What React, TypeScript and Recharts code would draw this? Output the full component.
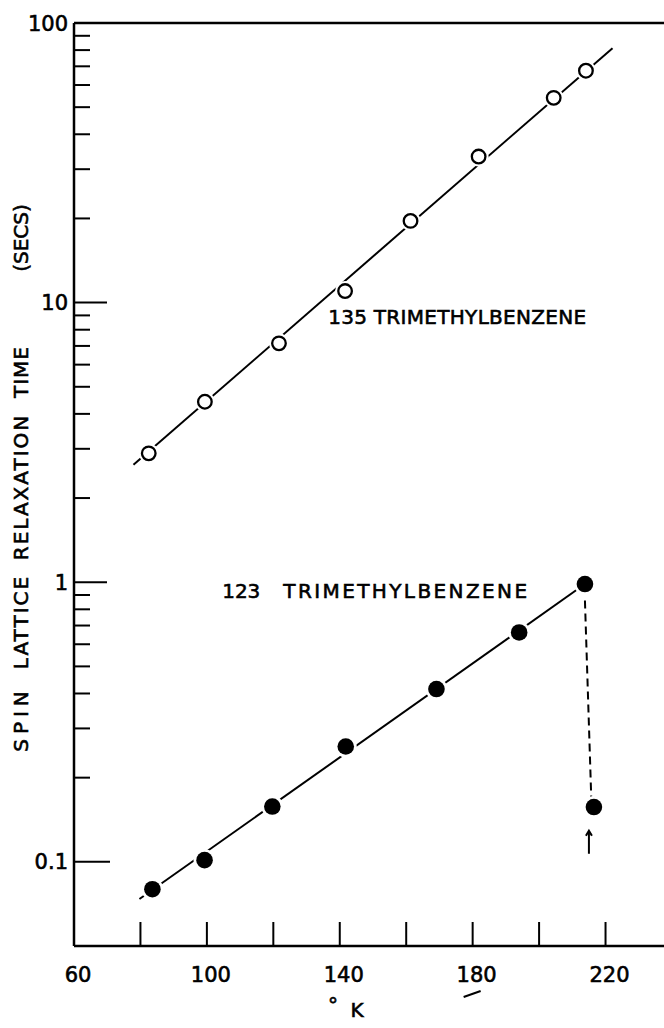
import React from 'react';
import {
  ScatterChart,
  Scatter,
  XAxis,
  YAxis,
  ReferenceLine,
  ReferenceDot,
} from 'recharts';

// temperature (deg K) and T1 (secs)
const temps135 = [82.5, 99.4, 121.7, 141.6, 161.3, 181.8, 204.4, 214.1];
const t1_135 = [2.89, 4.42, 7.15, 11.0, 19.6, 33.3, 54.0, 67.5];

const temps123 = [83.6, 99.3, 119.7, 141.8, 169.1, 194.0, 213.8];
const t1_123 = [0.0798, 0.1014, 0.1577, 0.2585, 0.415, 0.661, 0.985];

// point after the drop (marked with the arrow)
const tempsDrop = [216.5];
const t1Drop = [0.157];

// drawn straight lines through each set
const fitTemps135 = [77.9, 222.1];
const fitT1_135 = [2.63, 81.3];
const fitTemps123 = [79.7, 213.8];
const fitT1_123 = [0.0736, 0.985];
const dashTemps = [213.8, 215.7];
const dashT1 = [0.86, 0.17];

const kelvinTicks = [60, 80, 100, 120, 140, 160, 180, 200, 220];
const kelvinLabels = [60, 100, 140, 180, 220];
const timeTicks = [
  0.1, 0.2, 0.3, 0.4, 0.5, 0.6, 0.7, 0.8, 0.9,
  1, 2, 3, 4, 5, 6, 7, 8, 9,
  10, 20, 30, 40, 50, 60, 70, 80, 90,
  100,
];
const timeLabels = [0.1, 1, 10, 100];

const zip = (xs: number[], ys: number[]) => xs.map((x, i) => ({ x, y: ys[i] }));

const FONT = 'DejaVu Sans';
// the lettering in the original is a little heavier than DejaVu regular
const ink = { fill: '#000', stroke: '#000', strokeWidth: 0.6 };

const KelvinTick = ({ x, y, payload }: any) => {
  const v = payload.value;
  return (
    <g>
      {v !== 60 && <line x1={x} x2={x} y1={y} y2={y - 24} stroke="#000" strokeWidth={2} />}
      {kelvinLabels.includes(v) && (
        <text x={x + 4} y={y + 36} textAnchor="middle" fontFamily={FONT} fontSize={21} {...ink}>
          {v}
        </text>
      )}
      {v === 180 && <line x1={x - 9} y1={y + 51} x2={x + 8} y2={y + 45} stroke="#000" strokeWidth={2} />}
    </g>
  );
};

const TimeTick = ({ x, y, payload }: any) => {
  const v = payload.value;
  const major = timeLabels.includes(v);
  const len = v === 0.1 ? 36 : major ? 33 : 16;
  return (
    <g>
      {v !== 100 && <line x1={x} x2={x + len} y1={y} y2={y} stroke="#000" strokeWidth={2} />}
      {major && (
        <text x={x - 6} y={y} dy="0.36em" textAnchor="end" fontFamily={FONT} fontSize={21} {...ink}>
          {String(v)}
        </text>
      )}
    </g>
  );
};

const OpenDot = ({ cx, cy }: any) => (
  <g>
    <circle cx={cx} cy={cy} r={10} fill="#fff" />
    <circle cx={cx} cy={cy} r={6.8} fill="#fff" stroke="#000" strokeWidth={2.3} />
  </g>
);

const FilledDot = ({ cx, cy }: any) => (
  <g>
    <circle cx={cx} cy={cy} r={11} fill="#fff" />
    <circle cx={cx} cy={cy} r={8.3} fill="#000" />
  </g>
);

const NoDot = () => <g />;

const YTitle = () => {
  const words = [
    { t: 'SPIN', c: 719, ls: 5 },
    { t: 'LATTICE', c: 622, ls: 2 },
    { t: 'RELAXATION', c: 487, ls: 2 },
    { t: 'TIME', c: 372, ls: 1 },
    { t: '(SECS)', c: 238, ls: 0 },
  ];
  return (
    <g>
      {words.map((w) => (
        <text
          key={w.t}
          transform={`translate(28, ${w.c}) rotate(-90)`}
          textAnchor="middle"
          fontFamily={FONT}
          fontSize={20}
          letterSpacing={w.ls}
          {...ink}
        >
          {w.t}
        </text>
      ))}
    </g>
  );
};

const XTitle = () => (
  <g fontFamily={FONT} {...ink}>
    <text x={333} y={1012} textAnchor="middle" fontSize={20}>°</text>
    <text x={357} y={1017} textAnchor="middle" fontSize={20}>K</text>
  </g>
);

const textShape = (label: string, spacing: number) => (p: any) => (
  <text x={p.cx} y={p.cy} fontFamily={FONT} fontSize={20} letterSpacing={spacing} {...ink}>
    {label}
  </text>
);

const ArrowShape = ({ cx, cy }: any) => (
  <g stroke="#000" strokeWidth={2} fill="none">
    <line x1={cx} x2={cx} y1={cy - 11} y2={cy + 11} />
    <path d={`M${cx - 3} ${cy - 7} L${cx} ${cy - 12} L${cx + 3} ${cy - 7}`} />
  </g>
);

export default function App() {
  return (
    <div style={{ position: 'absolute', left: 0, top: 0, width: 664, height: 1028, background: '#fff' }}>
      <ScatterChart width={664} height={1028} margin={{ top: 23, right: 0, bottom: 0, left: 0 }}>
        <XAxis
          type="number"
          dataKey="x"
          domain={[60, 237.6]}
          ticks={kelvinTicks}
          interval={0}
          height={82}
          tickSize={0}
          tickMargin={0}
          tickLine={false}
          tick={<KelvinTick />}
          axisLine={{ stroke: '#000', strokeWidth: 2.5 }}
          label={{ content: () => <XTitle /> }}
        />
        <YAxis
          type="number"
          dataKey="y"
          scale="log"
          domain={[0.05, 100]}
          allowDataOverflow
          ticks={timeTicks}
          interval={0}
          width={74}
          tickSize={0}
          tickMargin={0}
          tickLine={false}
          tick={<TimeTick />}
          axisLine={{ stroke: '#000', strokeWidth: 2.5 }}
          label={{ content: () => <YTitle /> }}
        />
        <ReferenceLine y={100} stroke="#000" strokeWidth={2.5} />

        <Scatter
          data={zip(fitTemps135, fitT1_135)}
          line={{ stroke: '#000', strokeWidth: 2 }}
          shape={<NoDot />}
          isAnimationActive={false}
        />
        <Scatter
          data={zip(fitTemps123, fitT1_123)}
          line={{ stroke: '#000', strokeWidth: 2 }}
          shape={<NoDot />}
          isAnimationActive={false}
        />
        <Scatter
          data={zip(dashTemps, dashT1)}
          line={{ stroke: '#000', strokeWidth: 2, strokeDasharray: '8 5' }}
          shape={<NoDot />}
          isAnimationActive={false}
        />
        <Scatter data={zip(temps135, t1_135)} shape={<OpenDot />} isAnimationActive={false} />
        <Scatter data={zip(temps123, t1_123)} shape={<FilledDot />} isAnimationActive={false} />
        <Scatter data={zip(tempsDrop, t1Drop)} shape={<FilledDot />} isAnimationActive={false} />

        <ReferenceDot x={136.5} y={8.4} r={0} shape={textShape('135 TRIMETHYLBENZENE', 0.3)} />
        <ReferenceDot x={104.6} y={0.88} r={0} shape={textShape('123', 0)} />
        <ReferenceDot x={123.0} y={0.88} r={0} shape={textShape('TRIMETHYLBENZENE', 2.4)} />
        <ReferenceDot x={215.0} y={0.117} r={0} shape={<ArrowShape />} />
      </ScatterChart>
    </div>
  );
}
